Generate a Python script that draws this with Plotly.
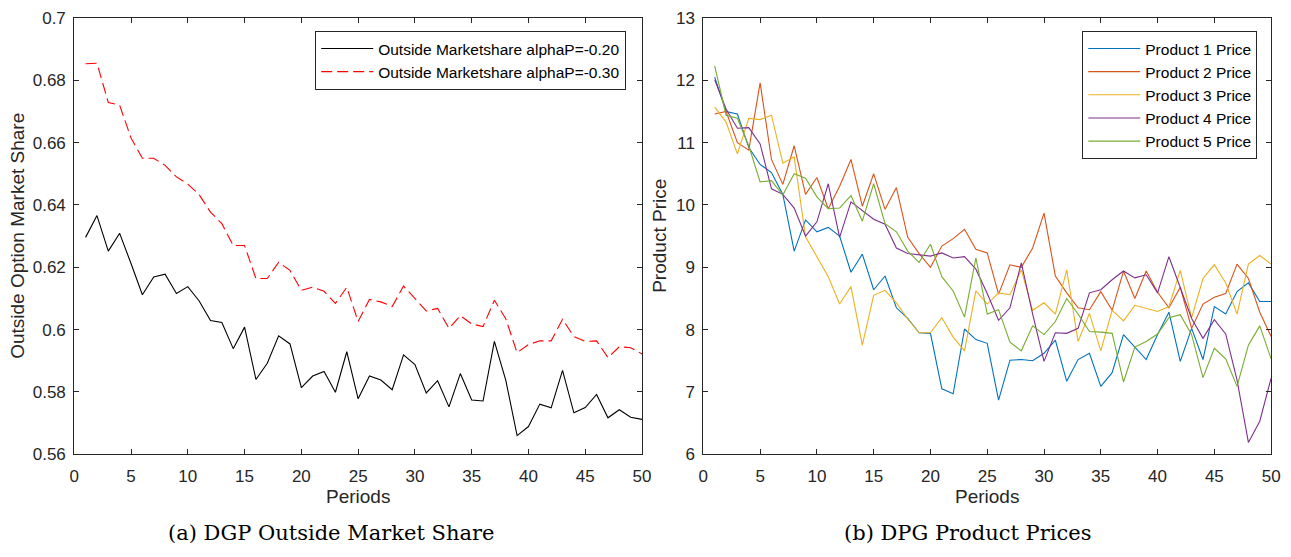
import plotly.graph_objects as go

periods = list(range(1, 51))

share_alpha_020 = [0.6296, 0.6366, 0.6252, 0.6309, 0.6212, 0.6112, 0.6169, 0.6178, 0.6116, 0.6138,
                   0.6092, 0.6029, 0.6023, 0.5939, 0.6008, 0.5840, 0.5892, 0.5980, 0.5954, 0.5814,
                   0.5851, 0.5866, 0.5799, 0.5929, 0.5778, 0.5851, 0.5838, 0.5807, 0.5919, 0.5888,
                   0.5797, 0.5836, 0.5752, 0.5859, 0.5774, 0.5771, 0.5962, 0.5838, 0.5660, 0.5689,
                   0.5761, 0.5749, 0.5869, 0.5733, 0.5750, 0.5792, 0.5717, 0.5743, 0.5719, 0.5712]

share_alpha_030 = [0.6853, 0.6855, 0.6729, 0.6720, 0.6615, 0.6550, 0.6550, 0.6527, 0.6490, 0.6467,
                   0.6433, 0.6377, 0.6340, 0.6270, 0.6270, 0.6164, 0.6164, 0.6216, 0.6190, 0.6126,
                   0.6136, 0.6123, 0.6084, 0.6136, 0.6026, 0.6097, 0.6089, 0.6074, 0.6140, 0.6100,
                   0.6060, 0.6068, 0.6004, 0.6045, 0.6018, 0.6010, 0.6094, 0.6035, 0.5926, 0.5952,
                   0.5964, 0.5964, 0.6033, 0.5978, 0.5962, 0.5964, 0.5910, 0.5945, 0.5942, 0.5922]

price_p1 = [12.05, 11.50, 11.46, 10.92, 10.65, 10.52, 10.17, 9.26, 9.76, 9.57,
            9.64, 9.50, 8.92, 9.21, 8.64, 8.86, 8.35, 8.18, 7.95, 7.94,
            7.05, 6.97, 8.01, 7.84, 7.78, 6.87, 7.51, 7.52, 7.50, 7.62,
            7.83, 7.17, 7.52, 7.62, 7.09, 7.31, 7.92, 7.72, 7.52, 7.92,
            8.28, 7.49, 8.02, 7.52, 8.37, 8.25, 8.61, 8.75, 8.45, 8.45]

price_p2 = [11.46, 11.50, 11.00, 10.88, 11.96, 10.73, 10.33, 10.95, 10.17, 10.44,
            9.94, 10.30, 10.73, 9.98, 10.50, 9.93, 10.28, 9.48, 9.22, 9.00,
            9.34, 9.46, 9.61, 9.29, 9.23, 8.57, 9.04, 9.00, 9.31, 9.87,
            8.86, 8.59, 8.35, 8.32, 8.61, 8.31, 8.94, 8.50, 8.94, 8.60,
            8.35, 8.68, 8.02, 8.41, 8.52, 8.58, 9.05, 8.82, 8.28, 7.89]

price_p3 = [11.57, 11.33, 10.82, 11.39, 11.37, 11.44, 10.67, 10.77, 9.49, 9.16,
            8.85, 8.41, 8.69, 7.75, 8.55, 8.63, 8.43, 8.17, 7.95, 7.95,
            8.19, 7.88, 7.66, 8.62, 8.41, 8.59, 8.56, 8.96, 8.31, 8.43,
            8.25, 8.96, 7.81, 8.26, 7.66, 8.31, 8.14, 8.39, 8.34, 8.29,
            8.37, 8.95, 8.19, 8.82, 9.04, 8.75, 8.25, 9.05, 9.19, 9.05]

price_p4 = [12.01, 11.54, 11.23, 11.24, 10.98, 10.26, 10.17, 9.95, 9.50, 9.73,
            10.34, 9.48, 10.05, 9.91, 9.77, 9.69, 9.31, 9.22, 9.20, 9.18,
            9.23, 9.15, 9.17, 8.97, 8.58, 8.15, 8.35, 9.07, 8.25, 7.49,
            7.95, 7.94, 8.02, 8.59, 8.64, 8.80, 8.94, 8.83, 8.88, 8.59,
            9.17, 8.69, 8.18, 7.86, 8.16, 7.93, 7.19, 6.19, 6.53, 7.22]

price_p5 = [12.23, 11.44, 11.39, 10.95, 10.37, 10.39, 10.16, 10.50, 10.43, 10.13,
            9.94, 9.95, 10.15, 9.74, 10.34, 9.70, 9.57, 9.26, 9.08, 9.37,
            8.85, 8.62, 8.20, 9.15, 8.25, 8.32, 7.80, 7.66, 8.06, 7.92,
            8.13, 8.50, 8.25, 7.97, 7.96, 7.94, 7.16, 7.72, 7.81, 7.93,
            8.19, 8.24, 7.92, 7.23, 7.70, 7.53, 7.09, 7.75, 8.06, 7.53]

left_names = ["Outside Marketshare alphaP=-0.20", "Outside Marketshare alphaP=-0.30"]
right_names = ["Product 1 Price", "Product 2 Price", "Product 3 Price", "Product 4 Price", "Product 5 Price"]
right_colors = ["#0072BD", "#D95319", "#EDB120", "#7E2F8E", "#77AC30"]

share_ticks = [0.56, 0.58, 0.60, 0.62, 0.64, 0.66, 0.68, 0.70]
share_ticktext = ["0.56", "0.58", "0.6", "0.62", "0.64", "0.66", "0.68", "0.7"]
price_ticks = [6, 7, 8, 9, 10, 11, 12, 13]
period_ticks = [0, 5, 10, 15, 20, 25, 30, 35, 40, 45, 50]

W, H = 1291, 557
AX = "#262626"
SANS = "Liberation Sans, Arial, sans-serif"

fig = go.Figure()
fig.add_trace(go.Scatter(x=periods, y=share_alpha_020, mode="lines", name=left_names[0],
                         line=dict(color="black", width=1.1), xaxis="x", yaxis="y", legend="legend"))
fig.add_trace(go.Scatter(x=periods, y=share_alpha_030, mode="lines", name=left_names[1],
                         line=dict(color="#FF0000", width=1.1, dash="11px,5px"), xaxis="x", yaxis="y",
                         legend="legend"))
for vals, nm, col in zip([price_p1, price_p2, price_p3, price_p4, price_p5], right_names, right_colors):
    fig.add_trace(go.Scatter(x=periods, y=vals, mode="lines", name=nm,
                             line=dict(color=col, width=1.1), xaxis="x2", yaxis="y2", legend="legend2"))

ydom = [(H - 461) / H, (H - 9.3) / H]
common = dict(showline=True, linecolor=AX, linewidth=1, mirror="allticks", ticks="inside", ticklen=5,
              tickcolor=AX, tickwidth=1, showgrid=False, zeroline=False,
              tickfont=dict(family=SANS, size=17, color=AX))
legend_common = dict(yanchor="top", y=(H - 22.7) / H, xanchor="right", bgcolor="white",
                     bordercolor=AX, borderwidth=1, font=dict(family=SANS, size=15.5, color="black"),
                     tracegroupgap=0, itemwidth=52)

fig.update_layout(
    width=W, height=H, margin=dict(l=0, r=0, t=0, b=0),
    paper_bgcolor="white", plot_bgcolor="white",
    xaxis=dict(domain=[70 / W, 644 / W], range=[0, 50], tickvals=period_ticks, anchor="y",
               ticklabelstandoff=6, **common),
    yaxis=dict(domain=ydom, range=[0.56, 0.70], tickvals=share_ticks, ticktext=share_ticktext,
               anchor="x", ticklabelstandoff=4, **common),
    xaxis2=dict(domain=[706 / W, 1280 / W], range=[0, 50], tickvals=period_ticks, anchor="y2",
                ticklabelstandoff=6, **common),
    yaxis2=dict(domain=ydom, range=[6, 13], tickvals=price_ticks, anchor="x2", ticklabelstandoff=4,
                **common),
    legend=dict(x=628 / W, **legend_common),
    legend2=dict(x=1266 / W, **legend_common),
    showlegend=True,
)

ann = []
ann.append(dict(text="Periods", x=357 / W, y=(H - 505) / H, xref="paper", yref="paper", showarrow=False,
                font=dict(family=SANS, size=19, color=AX), xanchor="center", yanchor="middle"))
ann.append(dict(text="Periods", x=993 / W, y=(H - 505) / H, xref="paper", yref="paper", showarrow=False,
                font=dict(family=SANS, size=19, color=AX), xanchor="center", yanchor="middle"))
ann.append(dict(text="Outside Option Market Share", x=13 / W, y=(H - 235) / H, xref="paper", yref="paper",
                showarrow=False, textangle=-90, font=dict(family=SANS, size=19, color=AX),
                xanchor="center", yanchor="middle"))
ann.append(dict(text="Product Price", x=662 / W, y=(H - 235) / H, xref="paper", yref="paper",
                showarrow=False, textangle=-90, font=dict(family=SANS, size=19, color=AX),
                xanchor="center", yanchor="middle"))
ann.append(dict(text="(a) DGP Outside Market Share", x=330 / W, y=(H - 542) / H, xref="paper", yref="paper",
                showarrow=False, font=dict(family="DejaVu Serif, serif", size=21, color="black"),
                xanchor="center", yanchor="middle"))
ann.append(dict(text="(b) DPG Product Prices", x=973 / W, y=(H - 542) / H, xref="paper", yref="paper",
                showarrow=False, font=dict(family="DejaVu Serif, serif", size=21, color="black"),
                xanchor="center", yanchor="middle"))
fig.update_layout(annotations=ann)

fig.write_html("out.html", config={"displayModeBar": False},
               post_script="document.body.style.margin='0px';")
